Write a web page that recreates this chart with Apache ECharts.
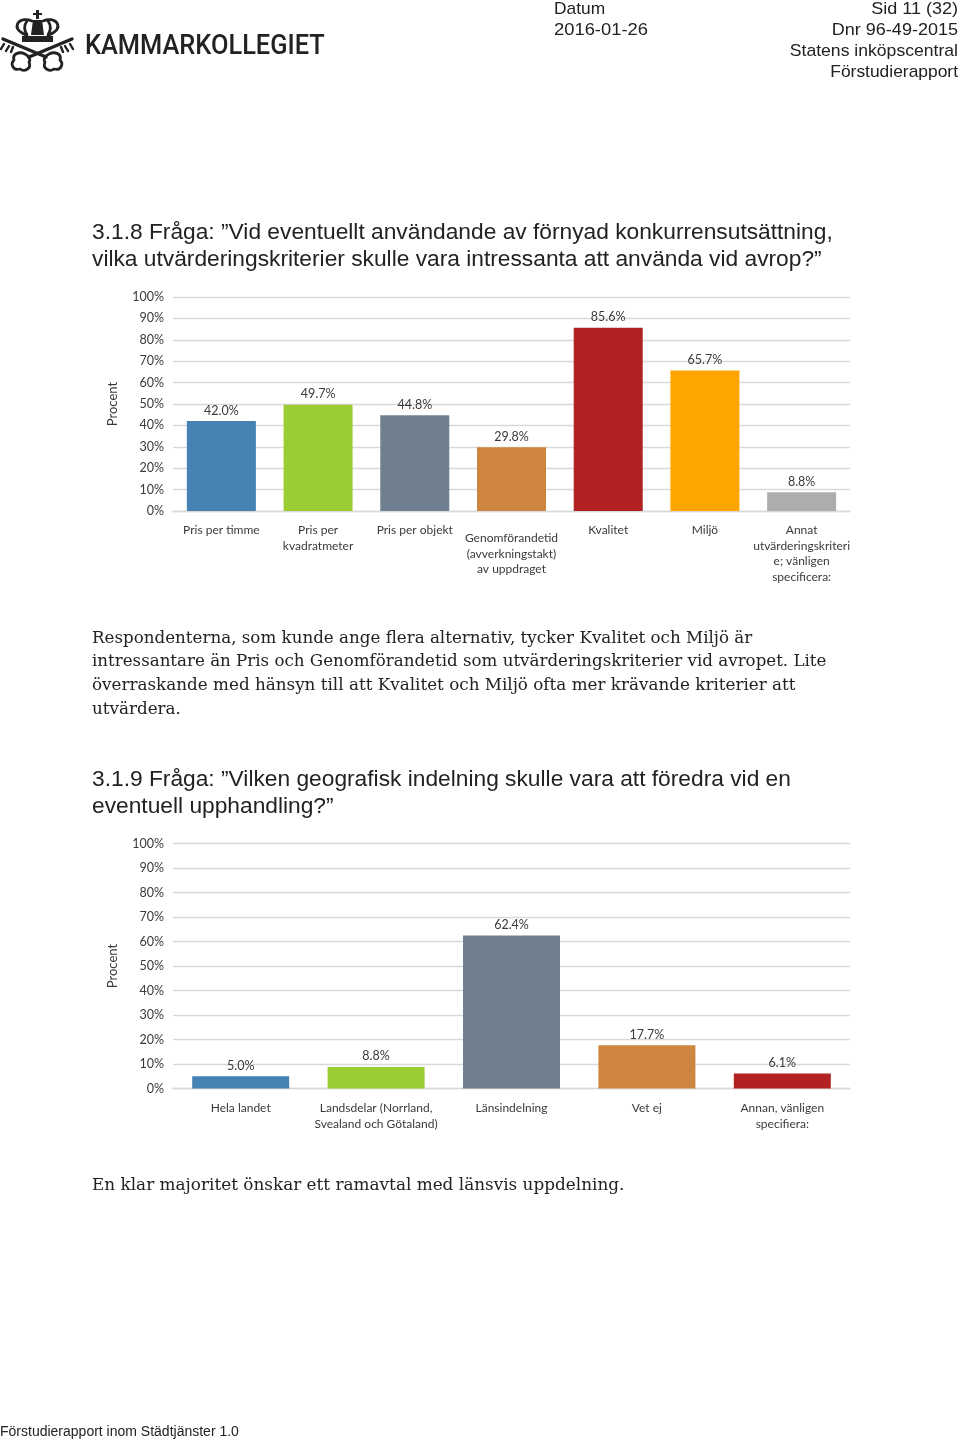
<!DOCTYPE html>
<html>
<head>
<meta charset="utf-8">
<style>html,body{margin:0;padding:0;background:#fff}#c{width:960px;height:1440px}</style>
<script src="https://cdn.jsdelivr.net/npm/echarts@6/dist/echarts.min.js"></script>
</head>
<body>
<div id="c"></div>
<script>
const yTicks = [0,10,20,30,40,50,60,70,80,90,100];
const categoriesA = ['Pris per timme','Pris per\nkvadratmeter','Pris per objekt','Genomförandetid\n(avverkningstakt)\nav uppdraget','Kvalitet','Miljö','Annat\nutvärderingskriteri\ne; vänligen\nspecificera:'];
const valuesA = [42.0,49.7,44.8,29.8,85.6,65.7,8.8];
const colorsA = ['#4682B4','#9ACD32','#708090','#CD853F','#B22222','#FFA500','#ADADAD'];
const categoriesB = ['Hela landet','Landsdelar (Norrland,\nSvealand och Götaland)','Länsindelning','Vet ej','Annan, vänligen\nspecifiera:'];
const valuesB = [5.0,8.8,62.4,17.7,6.1];
const colorsB = ['#4682B4','#9ACD32','#708090','#CD853F','#B22222'];
const axisName = 'Procent';

const LABEL_FONT = 'Lato';
const txt = '#3a3a3a';

function T(x,y,text,font,size,opt){
  opt = opt||{};
  return {type:'text',x:x,y:y,scaleX:opt.sx||1,
    style:{text:text,fontFamily:font,fontSize:size,fontWeight:opt.w||'normal',fill:opt.fill||'#222',
      align:opt.align||'left',verticalAlign:'middle'},silent:true};
}
const sans='Liberation Sans', serif='DejaVu Serif';
const H=22.75, B=16.75;
const pageText = [
  T(554,9.5,'Datum',sans,17,{sx:1.02}),
  T(554,30.5,'2016-01-26',sans,17,{sx:1.08}),
  T(958,9.5,'Sid 11 (32)',sans,17,{align:'right',sx:1.06}),
  T(958,30.5,'Dnr 96-49-2015',sans,17,{align:'right',sx:1.06}),
  T(958,51.5,'Statens inköpscentral',sans,17,{align:'right',sx:1.035}),
  T(958,72.5,'Förstudierapport',sans,17,{align:'right',sx:1.024}),
  T(92,232.5,'3.1.8 Fråga: ”Vid eventuellt användande av förnyad konkurrensutsättning,',sans,H),
  T(92,259.5,'vilka utvärderingskriterier skulle vara intressanta att använda vid avrop?”',sans,H),
  T(92,638.5,'Respondenterna, som kunde ange flera alternativ, tycker Kvalitet och Miljö är',serif,B,{sx:0.997}),
  T(92,662,'intressantare än Pris och Genomförandetid som utvärderingskriterier vid avropet. Lite',serif,B,{sx:0.995}),
  T(92,686,'överraskande med hänsyn till att Kvalitet och Miljö ofta mer krävande kriterier att',serif,B,{sx:1.001}),
  T(92,710,'utvärdera.',serif,B),
  T(92,779.5,'3.1.9 Fråga: ”Vilken geografisk indelning skulle vara att föredra vid en',sans,H),
  T(92,806.5,'eventuell upphandling?”',sans,H),
  T(92,1186,'En klar majoritet önskar ett ramavtal med länsvis uppdelning.',serif,B,{sx:1.006}),
  T(0,1432,'Förstudierapport inom Städtjänster 1.0',sans,14),
  T(85,47.5,'KAMMARKOLLEGIET','Roboto',27,{fill:'#222',sx:0.94,w:500})
];
const ink='#222';
let shapeCount=0;
function P(d,style){
  const name='logoShape'+(shapeCount++);
  echarts.graphic.registerShape(name,echarts.graphic.extendPath(d,{}));
  return {type:name,silent:true,style:style};
}
const stroke=(d,w)=>P(d,{fill:'none',stroke:ink,lineWidth:w||2.8,lineCap:'round',lineJoin:'round'});
const fill=(d)=>P(d,{fill:ink,stroke:'none'});
const logo = [
  fill('M36 10h3v3h3v2h-3v4h-3v-4h-3v-2h3z'),
  fill('M33 20h9l2 15h-13z'),
  stroke('M26 35C19 32 15 28 18 23C21 19 27 19 32 21'),
  stroke('M49 35C56 32 60 28 57 23C54 19 48 19 43 21'),
  stroke('M27 35C24 30 24 25 27 21'),
  stroke('M48 35C51 30 51 25 48 21'),
  fill('M22 36h31v6h-31z'),
  stroke('M3 39L46 57',3.4),
  stroke('M72 39L29 57',3.4),
  stroke('M1 49L4 44M6 51L9 46M11 52L13 47',2.4),
  stroke('M73 49L70 44M68 51L65 46M63 52L61 47',2.4),
  stroke('M25 54C19 51 12 54 14 60C10 64 13 71 20 69C24 72 32 69 29 62C31 60 29 56 25 54',2.8),
  stroke('M49 54C55 51 62 54 60 60C64 64 61 71 54 69C50 72 42 69 45 62C43 60 45 56 49 54',2.8)
];

const axisLine = {lineStyle:{color:'#D9D9D9',width:1.3}};
function xAxis(i,cats,shifted,margin){
  return {type:'category',gridIndex:i,
    data:cats.map((c,k)=>shifted.includes(k)?{value:c,textStyle:{padding:[8,0,0,0]}}:c),
    axisTick:{show:false},axisLine:axisLine,
    axisLabel:{interval:0,margin:margin,color:txt,fontFamily:LABEL_FONT,fontSize:12,lineHeight:15.8,hideOverlap:false}};
}
function yAxis(i,gap){
  return {type:'value',gridIndex:i,min:yTicks[0],max:yTicks[yTicks.length-1],interval:yTicks[1]-yTicks[0],
    name:axisName,nameLocation:'middle',nameRotate:90,nameGap:gap,
    nameTextStyle:{color:txt,fontFamily:LABEL_FONT,fontSize:13},
    axisLine:{show:false},axisTick:{show:false},
    splitLine:{lineStyle:{color:'#D9D9D9',width:1.3}},
    axisLabel:{margin:9,color:txt,fontFamily:LABEL_FONT,fontSize:12.5,formatter:'{value}%'}};
}
function bars(i,vals,cols,width){
  return {type:'bar',xAxisIndex:i,yAxisIndex:i,barWidth:width,
    data:vals.map((v,k)=>({value:v,itemStyle:{color:cols[k]}})),
    label:{show:true,position:'top',distance:4,color:txt,fontFamily:LABEL_FONT,fontSize:12.5,
      formatter:p=>p.value.toFixed(1)+'%'},
    emphasis:{disabled:true},silent:true,animation:false};
}
const chart = echarts.init(document.getElementById('c'),null,{renderer:'canvas',width:960,height:1440});
chart.setOption({
  animation:false,
  backgroundColor:'#fff',
  grid:[
    {left:173,right:110,top:297,height:214},
    {left:173,right:110,top:843.5,height:245}
  ],
  xAxis:[xAxis(0,categoriesA,[3],11),xAxis(1,categoriesB,[],12)],
  yAxis:[yAxis(0,54),yAxis(1,54)],
  series:[bars(0,valuesA,colorsA,69),bars(1,valuesB,colorsB,97)],
  graphic:{elements:pageText.concat(logo)}
});
</script>
</body>
</html>
